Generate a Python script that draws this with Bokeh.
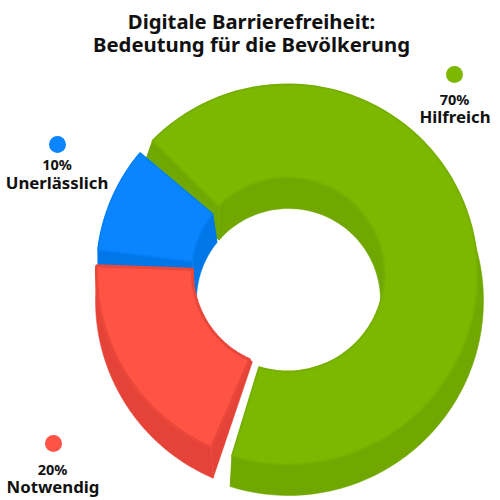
import math
from bokeh.plotting import figure
from bokeh.models import Range1d
from bokeh.core.properties import value
from bokeh.embed import file_html
from bokeh.resources import INLINE

title_lines = ["Digitale Barrierefreiheit:", "Bedeutung für die Bevölkerung"]
categories = ["Hilfreich", "Notwendig", "Unerlässlich"]
shares = [70, 20, 10]
face_colors = ["#7CB800", "#FF5345", "#0A84FF"]
wall_colors = ["#70A700", "#E64338", "#0077E8"]
edge_colors = ["#76AF00", "#EA473B", "#0480F6"]
edge_widths = [2, 3, 1.5]

START = 135.0
order = [2, 1, 0]
angles = {}
acc = START
for i in order:
    angles[i] = (acc, acc + shares[i] * 3.6)
    acc += shares[i] * 3.6

# The drawing is in a tilted view: each slice's rays are displaced from the flat angle
top_shift = {0: (10.0, 0.3), 1: (7.0, 3.5), 2: (5.0, 2.0)}
base_shift = {0: (9.6, 4.0), 1: (7.0, 4.0), 2: (6.0, 14.0)}
base_in_end_shift = {0: 4.0, 1: -3.5, 2: 16.0}
top_geo = {0: (287, 274, 190, 97), 1: (287, 272, 191, 95), 2: (282, 272, 186, 91)}
base_geo = {0: (288, 300, 195, 92), 1: (288, 300, 193, 71), 2: (288, 300, 191, 92)}
inner_wall = {0: True, 1: False, 2: True}

marker_xy = {0: (454, 74), 1: (53, 443), 2: (57, 144)}
pct_xy = {0: (454, 98.5), 1: (52, 468.5), 2: (56.5, 163.5)}
name_xy = {0: (454.5, 115.5), 1: (52.5, 485.5), 2: (56.5, 181.5)}


def arc(geo, r, a0, a1, n=90):
    cx, cy = geo[0], geo[1]
    xs, ys = [], []
    for k in range(n + 1):
        a = math.radians(a0 + (a1 - a0) * k / n)
        xs.append(cx + r * math.cos(a))
        ys.append(cy - r * math.sin(a))
    return xs, ys


W, H = 500, 500
p = figure(width=W, height=H, output_backend="svg", toolbar_location=None,
           x_range=Range1d(0, W), y_range=Range1d(H, 0),
           min_border=0, outline_line_color=None)
p.xaxis.visible = False
p.yaxis.visible = False
p.grid.visible = False

for i in [0, 2, 1]:
    a0 = angles[i][0] + top_shift[i][0]
    a1 = angles[i][1] + top_shift[i][1]
    b0 = angles[i][0] + base_shift[i][0]
    b1 = angles[i][1] + base_shift[i][1]
    bi1 = angles[i][1] + base_in_end_shift[i]
    t, b = top_geo[i], base_geo[i]
    tox, toy = arc(t, t[2], a0, a1)
    tix, tiy = arc(t, t[3], a0, a1)
    box, boy = arc(b, b[2], b0, b1)
    bix, biy = arc(b, b[3], b0, bi1)
    wx, wy = [], []
    wx.append(tox + box[::-1])
    wy.append(toy + boy[::-1])
    if inner_wall[i]:
        wx.append(tix + bix[::-1])
        wy.append(tiy + biy[::-1])
        wx.append([tox[0], tix[0], bix[0], box[0]])
        wy.append([toy[0], tiy[0], biy[0], boy[0]])
    wx.append([tox[-1], tix[-1], bix[-1], box[-1]])
    wy.append([toy[-1], tiy[-1], biy[-1], boy[-1]])
    p.patches(wx, wy, fill_color=wall_colors[i], line_color=wall_colors[i], line_width=0.5)
    p.patch(tox + tix[::-1], toy + tiy[::-1], fill_color=face_colors[i],
            line_color=edge_colors[i], line_width=edge_widths[i])

for i, name in enumerate(categories):
    mx, my = marker_xy[i]
    p.scatter([mx], [my], size=17, marker="circle", fill_color=face_colors[i], line_color=None)
    p.text([pct_xy[i][0]], [pct_xy[i][1]], text=[f"{shares[i]}%"], text_font=value("Noto Sans"),
           text_font_style="bold", text_font_size="14.5px", text_align="center",
           text_baseline="middle", text_color="#111111")
    p.text([name_xy[i][0]], [name_xy[i][1]], text=[name], text_font=value("Noto Sans"),
           text_font_style="bold", text_font_size="16.8px", text_align="center",
           text_baseline="middle", text_color="#111111")

for line, y in zip(title_lines, [20.5, 43.5]):
    p.text([251], [y], text=[line], text_font=value("Noto Sans"), text_font_style="bold",
           text_font_size="20.3px", text_align="center", text_baseline="middle",
           text_color="#111111")

open("out.html", "w").write(file_html(p, INLINE))
